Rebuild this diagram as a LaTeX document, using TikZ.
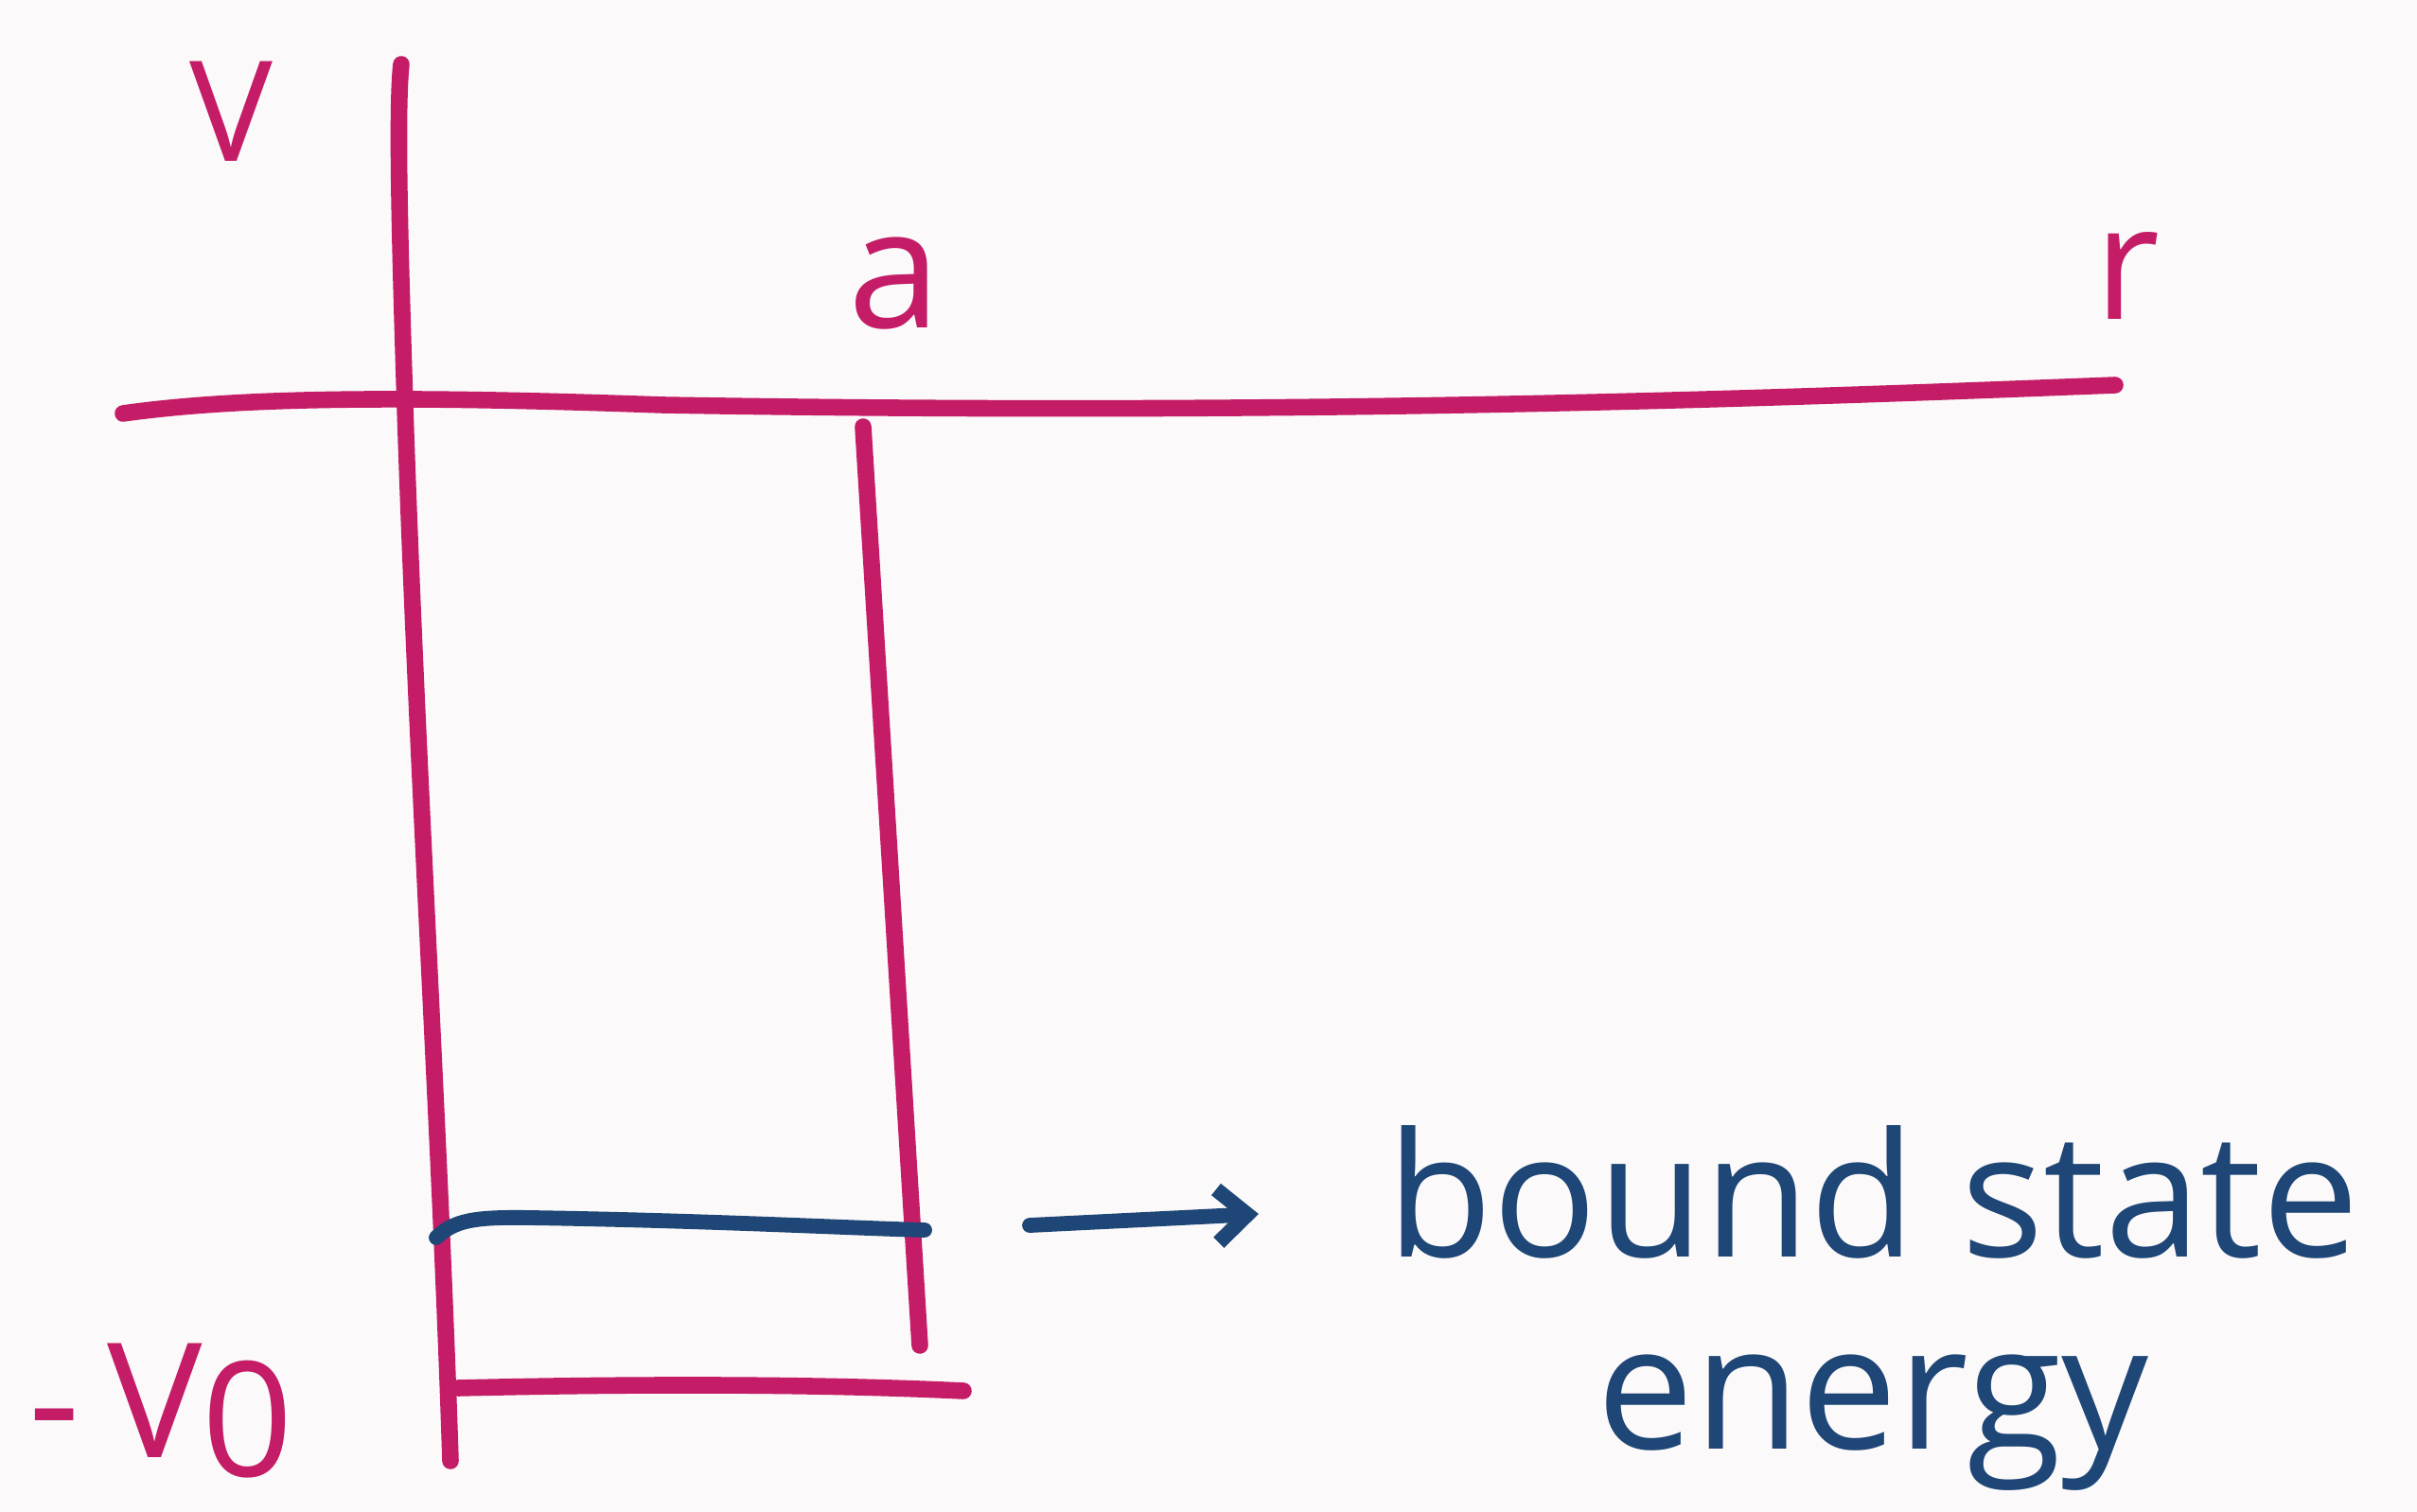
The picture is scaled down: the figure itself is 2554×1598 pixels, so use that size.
\documentclass[tikz,border=0pt]{standalone}
\usepackage{fontspec}
\setmainfont{Open Sans}
\usetikzlibrary{arrows.meta}
\definecolor{pen}{RGB}{196,28,102}
\definecolor{ink}{RGB}{30,70,118}
\definecolor{paper}{RGB}{251,249,249}
\tikzset{
  penline/.style={draw=pen, line width=5pt, line cap=round, line join=round},
  inkline/.style={draw=ink, line width=4.5pt, line cap=round, line join=round},
  pentext/.style={text=pen, inner sep=0pt},
  inktext/.style={text=ink, inner sep=0pt, font=\fontsize{52}{56}\selectfont},
}
\begin{document}
\begin{tikzpicture}[x=0.01cm, y=-0.01cm]
  \fill[paper] (0,0) rectangle (2554,1598);
  \useasboundingbox (0,0) rectangle (2554,1598);
  % axes
  \draw[penline] (424,68) .. controls (418,120) and (424,300) .. (428,430)
                 .. controls (440,800) and (465,1200) .. (476,1544);
  \draw[penline] (130,437) .. controls (250,420) and (420,418) .. (700,428)
                 .. controls (1400,440) and (1900,420) .. (2235,407);
  % well
  \draw[penline] (912,451) -- (972,1422);
  \draw[penline] (484,1467) .. controls (650,1463) and (850,1462) .. (1018,1470);
  % bound state line
  \draw[inkline] (461,1308) .. controls (480,1290) and (500,1286) .. (560,1287)
                 .. controls (750,1290) and (900,1298) .. (977,1300);
  % labels
  \node[pentext, font=\fontsize{42}{46}\selectfont] (V) at (244,118) {V};
  \node[pentext, font=\fontsize{50}{54}\selectfont] (a) at (945,300) {a};
  \node[pentext, font=\fontsize{48}{52}\selectfont] (r) at (2248,292) {r};
  \node[pentext, font=\fontsize{48}{52}\selectfont, anchor=base west] (V0) at (30,1540)
       {-\,V\raisebox{-0.12em}{0}};
  \node[inktext, anchor=base west] (bs) at (1465,1328) {bound state};
  \node[inktext, anchor=base] (en) at (1979,1531) {energy};
  \coordinate (arrstart) at (1088,1295);
  \draw[inkline, -{Straight Barb[length=9pt, width=16pt, line width=4.5pt]}]
       (arrstart) -- ([xshift=-1.35cm, yshift=0.45cm]bs.base west);
\end{tikzpicture}
\end{document}
